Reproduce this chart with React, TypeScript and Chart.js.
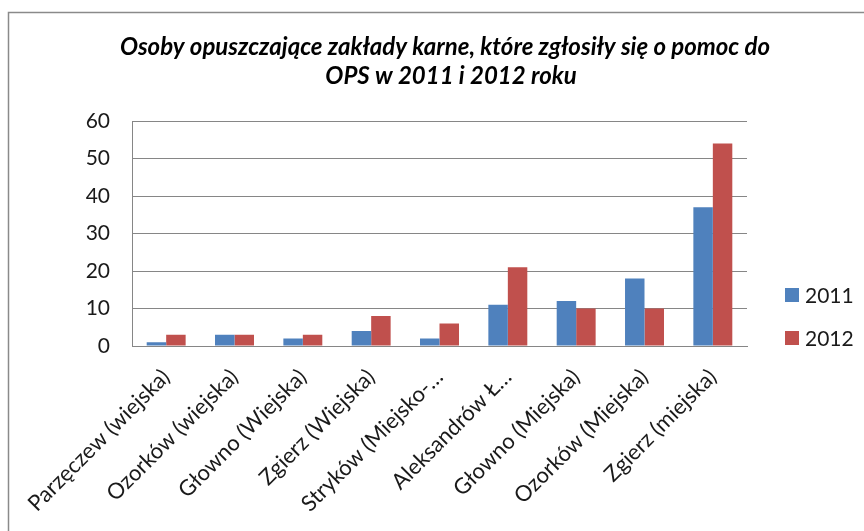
import { useEffect, useRef } from "react";
import { Chart, registerables } from "chart.js";

Chart.register(...registerables);

const categories = [
  "Parzęczew (wiejska)",
  "Ozorków (wiejska)",
  "Głowno (Wiejska)",
  "Zgierz (Wiejska)",
  "Stryków (Miejsko-…",
  "Aleksandrów Ł…",
  "Głowno (Miejska)",
  "Ozorków (Miejska)",
  "Zgierz (miejska)",
];
const seriesNames = ["2011", "2012"];
const values2011 = [1, 3, 2, 4, 2, 11, 12, 18, 37];
const values2012 = [3, 3, 3, 8, 6, 21, 10, 10, 54];
const titleLines = [
  "Osoby opuszczające zakłady karne, które zgłosiły się o pomoc do",
  "OPS w 2011 i 2012 roku",
];
const yTicks = { min: 0, max: 60, step: 10 };

const FONT = "Lato, 'Open Sans', sans-serif";
const BLUE = "#4F81BD";
const RED = "#C0504D";

const decorPlugin = {
  id: "decor",
  beforeDraw(chart: any) {
    const ctx = chart.ctx;
    ctx.save();
    ctx.fillStyle = "#ffffff";
    ctx.fillRect(0, 0, chart.width, chart.height);
    ctx.strokeStyle = "#8a8a8a";
    ctx.lineWidth = 1.5;
    ctx.beginPath();
    ctx.moveTo(8.5, chart.height);
    ctx.lineTo(8.5, 12.5);
    ctx.lineTo(chart.width, 12.5);
    ctx.stroke();
    ctx.restore();
  },
  afterDraw(chart: any) {
    const ctx = chart.ctx;
    ctx.save();
    // title
    ctx.fillStyle = "#000000";
    ctx.font = `italic bold 24px ${FONT}`;
    ctx.textAlign = "center";
    ctx.textBaseline = "middle";
    ctx.fillText(titleLines[0], 445, 47);
    ctx.fillText(titleLines[1], 451, 76);
    // legend
    ctx.font = `21px ${FONT}`;
    ctx.textAlign = "left";
    chart.data.datasets.forEach((ds: any, i: number) => {
      const y = 295 + i * 43;
      ctx.fillStyle = ds.backgroundColor;
      ctx.fillRect(785, y - 7, 14, 14);
      ctx.fillStyle = "#1a1a1a";
      ctx.fillText(ds.label, 805, y + 1);
    });
    ctx.restore();
  },
};

export default function App() {
  const ref = useRef<HTMLCanvasElement | null>(null);
  useEffect(() => {
    if (!ref.current) return;
    const chart = new Chart(ref.current, {
      type: "bar",
      data: {
        labels: categories,
        datasets: [
          { label: seriesNames[0], data: values2011, backgroundColor: BLUE },
          { label: seriesNames[1], data: values2012, backgroundColor: RED },
        ],
      },
      options: {
        animation: false,
        responsive: false,
        maintainAspectRatio: false,
        layout: { padding: { top: 121, left: 0, right: 117, bottom: 0 } },
        datasets: {
          bar: { barPercentage: 1, categoryPercentage: 0.57 },
        },
        plugins: {
          legend: { display: false },
          title: { display: false },
          tooltip: { enabled: false },
        },
        scales: {
          x: {
            afterFit(scale: any) {
              scale.height = 185;
            },
            grid: { display: false, drawTicks: false },
            border: { display: true, color: "#868686", width: 1 },
            ticks: {
              autoSkip: false,
              maxRotation: 45,
              minRotation: 45,
              padding: 18,
              color: "#1a1a1a",
              font: { family: FONT, size: 22 },
            },
          },
          y: {
            min: yTicks.min,
            max: yTicks.max,
            afterFit(scale: any) {
              scale.width = 132;
            },
            grid: { color: "#868686", lineWidth: 1, drawTicks: false },
            border: { display: true, color: "#868686", width: 1 },
            ticks: {
              stepSize: yTicks.step,
              padding: 22,
              color: "#1a1a1a",
              font: { family: FONT, size: 21 },
            },
          },
        },
      },
      plugins: [decorPlugin],
    });
    return () => chart.destroy();
  }, []);
  return (
    <div style={{ position: "fixed", left: 0, top: 0, width: 864, height: 531 }}>
      <canvas ref={ref} width={864} height={531} style={{ width: 864, height: 531, display: "block" }} />
    </div>
  );
}
